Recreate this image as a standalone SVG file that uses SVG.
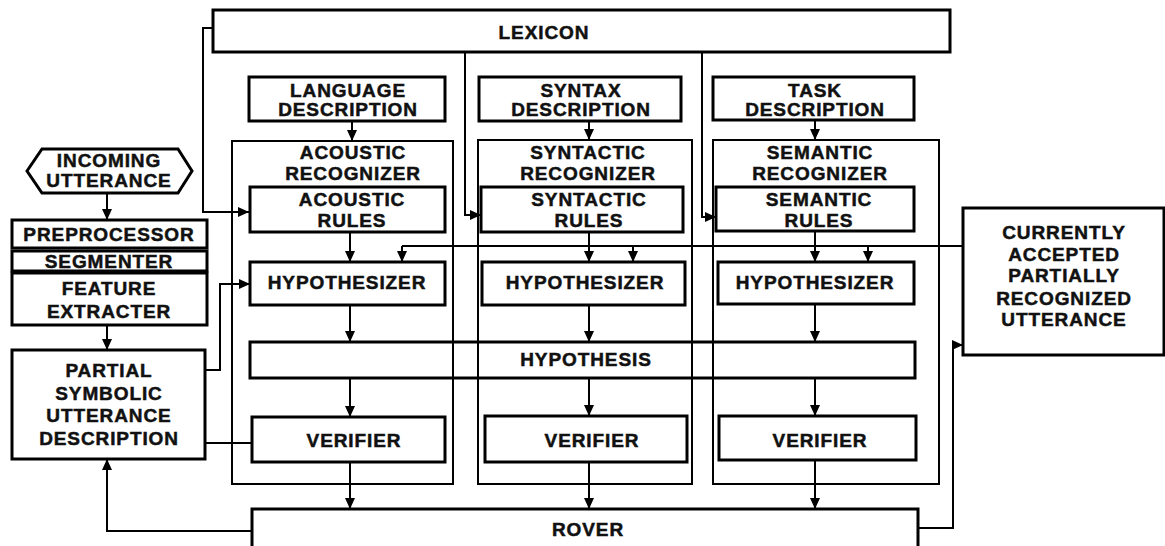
<svg xmlns="http://www.w3.org/2000/svg" width="1165" height="546" viewBox="0 0 1165 546">
<style>
.b{fill:none;stroke:#000;stroke-width:3}
.o{fill:none;stroke:#000;stroke-width:2}
.c{fill:none;stroke:#000;stroke-width:2}
.a{marker-end:url(#ah)}
text{font-family:"Liberation Sans",Arial,sans-serif;font-weight:bold;font-size:19px;letter-spacing:0.9px;text-anchor:middle;fill:#111;stroke:#111;stroke-width:0.5px}
</style>
<defs>
<marker id="ah" markerUnits="userSpaceOnUse" markerWidth="12" markerHeight="10" refX="11" refY="5" orient="auto">
<path d="M0,0 L11,5 L0,10 z" fill="#000"/>
</marker>
</defs>
<rect width="1165" height="546" fill="#fff"/>

<g id="lexicon"><rect class="b" x="213" y="10" width="737" height="42"/><text x="544" y="39">LEXICON</text></g>

<g id="incoming"><polygon class="b" points="27,171 42,149 178,149 192,171 178,193 42,193"/><text x="109" y="167">INCOMING</text><text x="109" y="187">UTTERANCE</text></g>
<g id="preprocessor"><rect class="b" x="12" y="220" width="195" height="28"/><text x="109" y="241">PREPROCESSOR</text></g>
<g id="segmenter"><rect class="b" x="12" y="251" width="195" height="20"/><text x="109" y="268">SEGMENTER</text></g>
<g id="feature"><rect class="b" x="12" y="273" width="195" height="52"/><text x="109" y="295">FEATURE</text><text x="109" y="318">EXTRACTER</text></g>
<g id="partial"><rect class="b" x="12" y="350" width="193" height="109"/><text x="109" y="377">PARTIAL</text><text x="109" y="400">SYMBOLIC</text><text x="109" y="422">UTTERANCE</text><text x="109" y="445">DESCRIPTION</text></g>

<g id="language"><rect class="b" x="249" y="77" width="196" height="44"/><text x="348" y="97">LANGUAGE</text><text x="348" y="116">DESCRIPTION</text></g>
<g id="syntax"><rect class="b" x="479" y="77" width="202" height="44"/><text x="581" y="97">SYNTAX</text><text x="581" y="116">DESCRIPTION</text></g>
<g id="task"><rect class="b" x="713" y="77" width="201" height="43"/><text x="815" y="97">TASK</text><text x="815" y="116">DESCRIPTION</text></g>

<g id="acoustic-recognizer"><rect class="o" x="232" y="141" width="221" height="343"/><text x="353" y="159">ACOUSTIC</text><text x="353" y="180">RECOGNIZER</text></g>
<g id="syntactic-recognizer"><rect class="o" x="478" y="140" width="214" height="344"/><text x="588" y="159">SYNTACTIC</text><text x="588" y="180">RECOGNIZER</text></g>
<g id="semantic-recognizer"><rect class="o" x="713" y="140" width="226" height="344"/><text x="820" y="159">SEMANTIC</text><text x="820" y="180">RECOGNIZER</text></g>

<g id="acoustic-rules"><rect class="b" x="250" y="187" width="195" height="45"/><text x="352" y="206">ACOUSTIC</text><text x="352" y="227">RULES</text></g>
<g id="syntactic-rules"><rect class="b" x="481" y="187" width="202" height="45"/><text x="589" y="206">SYNTACTIC</text><text x="589" y="227">RULES</text></g>
<g id="semantic-rules"><rect class="b" x="716" y="187" width="198" height="44"/><text x="819" y="206">SEMANTIC</text><text x="819" y="227">RULES</text></g>

<g id="acoustic-hypothesizer"><rect class="b" x="250" y="262" width="195" height="43"/><text x="347" y="289">HYPOTHESIZER</text></g>
<g id="syntactic-hypothesizer"><rect class="b" x="482" y="262" width="203" height="43"/><text x="585" y="289">HYPOTHESIZER</text></g>
<g id="semantic-hypothesizer"><rect class="b" x="718" y="262" width="196" height="42"/><text x="815" y="289">HYPOTHESIZER</text></g>

<g id="hypothesis"><rect class="b" x="250" y="342" width="665" height="36"/><text x="586" y="366">HYPOTHESIS</text></g>

<g id="acoustic-verifier"><rect class="b" x="252" y="417" width="193" height="45"/><text x="354" y="447">VERIFIER</text></g>
<g id="syntactic-verifier"><rect class="b" x="485" y="416" width="202" height="46"/><text x="592" y="447">VERIFIER</text></g>
<g id="semantic-verifier"><rect class="b" x="719" y="416" width="197" height="44"/><text x="820" y="447">VERIFIER</text></g>

<g id="rover"><path class="b" d="M252,548 V509 H918 V548"/><text x="588" y="536">ROVER</text></g>

<g id="current"><rect class="b" x="963" y="208" width="201" height="147"/><text x="1064" y="239">CURRENTLY</text><text x="1064" y="261">ACCEPTED</text><text x="1064" y="282">PARTIALLY</text><text x="1064" y="305">RECOGNIZED</text><text x="1064" y="326">UTTERANCE</text></g>

<g id="connectors">
<path class="c a" d="M107,193 V220"/>
<path class="c a" d="M107,325 V350"/>
<path class="c a" d="M205,370 H220 V284 H250"/>
<path class="c" d="M205,443 H252"/>
<path class="c a" d="M252,531 H107 V459"/>
<path class="c a" d="M213,28 H203 V212 H249"/>
<path class="c a" d="M465,52 V215 H481"/>
<path class="c a" d="M702,52 V217 H716"/>
<path class="c a" d="M352,121 V141"/>
<path class="c a" d="M589,121 V140"/>
<path class="c a" d="M815,120 V140"/>
<path class="c a" d="M350,232 V262"/>
<path class="c a" d="M589,232 V262"/>
<path class="c a" d="M815,231 V262"/>
<path class="c" d="M963,246 H402"/>
<path class="c a" d="M402,246 V262"/>
<path class="c a" d="M633,246 V262"/>
<path class="c a" d="M868,246 V262"/>
<path class="c a" d="M350,305 V342"/>
<path class="c a" d="M589,305 V342"/>
<path class="c a" d="M815,304 V342"/>
<path class="c a" d="M350,378 V417"/>
<path class="c a" d="M589,378 V416"/>
<path class="c a" d="M815,378 V416"/>
<path class="c a" d="M350,462 V509"/>
<path class="c a" d="M589,462 V509"/>
<path class="c a" d="M815,460 V509"/>
<path class="c a" d="M918,528 H953 V345 H963"/>
</g>
</svg>
